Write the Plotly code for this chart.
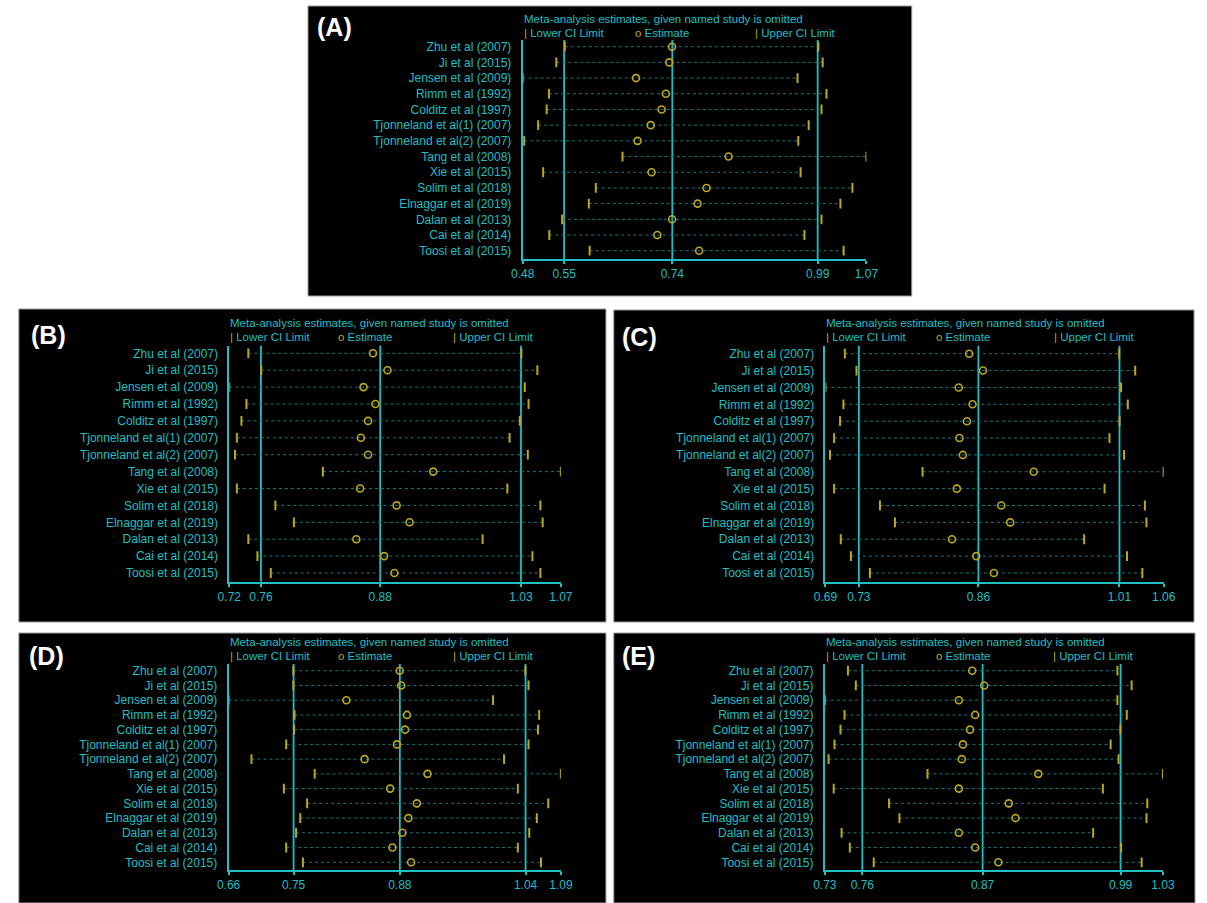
import plotly.graph_objects as go

# ---------------- data ----------------
studies = ["Zhu et al (2007)", "Ji et al (2015)", "Jensen et al (2009)", "Rimm et al (1992)",
           "Colditz et al (1997)", "Tjonneland et al(1) (2007)", "Tjonneland et al(2) (2007)",
           "Tang et al (2008)", "Xie et al (2015)", "Solim et al (2018)", "Elnaggar et al (2019)",
           "Dalan et al (2013)", "Cai et al (2014)", "Toosi et al (2015)"]

A_lower = [0.5524, 0.5378, 0.4800, 0.5252, 0.5212, 0.5066, 0.4827, 0.6514, 0.5152, 0.6056, 0.5936, 0.5478, 0.5258, 0.5950]
A_est   = [0.7365, 0.7318, 0.6747, 0.7258, 0.7185, 0.6999, 0.6773, 0.8335, 0.7013, 0.7956, 0.7803, 0.7365, 0.7112, 0.7830]
A_upper = [0.9876, 0.9950, 0.9518, 1.0016, 0.9930, 0.9710, 0.9531, 1.0700, 0.9571, 1.0461, 1.0255, 0.9930, 0.9637, 1.0310]
A_overall = [0.5512, 0.7369, 0.9864]
A_ticklabels = ["0.48", "0.55", "0.74", "0.99", "1.07"]

B_lower = [0.7401, 0.7537, 0.7200, 0.7381, 0.7328, 0.7280, 0.7260, 0.8188, 0.7280, 0.7686, 0.7882, 0.7401, 0.7497, 0.7638]
B_est   = [0.8717, 0.8870, 0.8617, 0.8742, 0.8665, 0.8589, 0.8665, 0.9352, 0.8581, 0.8966, 0.9103, 0.8541, 0.8834, 0.8942]
B_upper = [1.0283, 1.0452, 1.0319, 1.0359, 1.0267, 1.0159, 1.0351, 1.0700, 1.0135, 1.0484, 1.0508, 0.9874, 1.0400, 1.0484]
B_overall = [0.7534, 0.8793, 1.0279]
B_ticklabels = ["0.72", "0.76", "0.88", "1.03", "1.07"]

C_lower = [0.7112, 0.7239, 0.6900, 0.7096, 0.7059, 0.6994, 0.6949, 0.7962, 0.6994, 0.7496, 0.7660, 0.7067, 0.7178, 0.7386]
C_est   = [0.8472, 0.8623, 0.8358, 0.8509, 0.8448, 0.8366, 0.8403, 0.9178, 0.8337, 0.8823, 0.8921, 0.8284, 0.8550, 0.8742]
C_upper = [1.0114, 1.0289, 1.0134, 1.0208, 1.0118, 1.0007, 1.0167, 1.0600, 0.9954, 1.0395, 1.0412, 0.9730, 1.0199, 1.0367]
C_overall = [0.7265, 0.8573, 1.0117]
C_ticklabels = ["0.69", "0.73", "0.86", "1.01", "1.06"]

D_lower = [0.7438, 0.7438, 0.6600, 0.7453, 0.7448, 0.7345, 0.6896, 0.7714, 0.7315, 0.7616, 0.7527, 0.7473, 0.7345, 0.7562]
D_est   = [0.8814, 0.8834, 0.8124, 0.8908, 0.8883, 0.8779, 0.8360, 0.9174, 0.8691, 0.9036, 0.8927, 0.8849, 0.8720, 0.8962]
D_upper = [1.0441, 1.0481, 1.0022, 1.0619, 1.0604, 1.0481, 1.0165, 1.0900, 1.0343, 1.0737, 1.0589, 1.0491, 1.0343, 1.0643]
D_overall = [0.7441, 0.8816, 1.0443]
D_ticklabels = ["0.66", "0.75", "0.88", "1.04", "1.09"]

E_lower = [0.7505, 0.7575, 0.7300, 0.7475, 0.7439, 0.7386, 0.7333, 0.8211, 0.7379, 0.7870, 0.7962, 0.7449, 0.7522, 0.7734]
E_est   = [0.8608, 0.8714, 0.8489, 0.8634, 0.8588, 0.8525, 0.8515, 0.9194, 0.8489, 0.8932, 0.8992, 0.8489, 0.8634, 0.8840]
E_upper = [0.9896, 1.0022, 0.9896, 0.9979, 0.9923, 0.9836, 0.9906, 1.0300, 0.9767, 1.0161, 1.0154, 0.9681, 0.9929, 1.0111]
E_overall = [0.7633, 0.8700, 0.9924]
E_ticklabels = ["0.73", "0.76", "0.87", "0.99", "1.03"]

panel_labels = ["(A)", "(B)", "(C)", "(D)", "(E)"]
title_text = "Meta-analysis estimates, given named study is omitted"
legend_texts = ["Lower CI Limit", "Estimate", "Upper CI Limit"]

# ---------------- style / layout ----------------
W, H = 1207, 903
CYAN = "#1fbfc4"
YEL = "#bca81c"
DOT = "#1a7878"
FONT = "Liberation Sans, Arial, sans-serif"


def px(x):
    return x / W


def py(y):
    return 1 - y / H


geo = [
    dict(rect=(302, 6, 918, 296), xpx=(521, 871.7), first=46.7, last=250.7, top=40, axis=259,
         title_y=18.8, leg_y=32.8, lab=(329, 26.7)),
    dict(rect=(7, 309, 606, 622), xpx=(221.7, 560), first=353.3, last=573, top=345.7, axis=581.7,
         title_y=322.8, leg_y=336.8, lab=(37, 335)),
    dict(rect=(614, 310, 1206, 622), xpx=(830, 1175), first=353.7, last=573, top=345.7, axis=581.7,
         title_y=322.8, leg_y=336.8, lab=(640, 336.5)),
    dict(rect=(7, 633, 606, 903), xpx=(221, 560), first=670.7, last=862.3, top=664, axis=870,
         title_y=642.3, leg_y=656.2, lab=(35, 656)),
    dict(rect=(614, 633, 1207, 903), xpx=(829.3, 1174.3), first=670.7, last=862.3, top=664, axis=870,
         title_y=642.3, leg_y=656.2, lab=(639, 656)),
]

datasets = [
    (A_lower, A_est, A_upper, A_overall, A_ticklabels),
    (B_lower, B_est, B_upper, B_overall, B_ticklabels),
    (C_lower, C_est, C_upper, C_overall, C_ticklabels),
    (D_lower, D_est, D_upper, D_overall, D_ticklabels),
    (E_lower, E_est, E_upper, E_overall, E_ticklabels),
]

fig = go.Figure()
shapes = []
annotations = []
layout_axes = {}

rows = list(range(len(studies)))

for k, ((lo, es, up, ov, tl), g) in enumerate(zip(datasets, geo)):
    n = k + 1
    xa = "x" if n == 1 else f"x{n}"
    ya = "y" if n == 1 else f"y{n}"
    xkey = "xaxis" if n == 1 else f"xaxis{n}"
    ykey = "yaxis" if n == 1 else f"yaxis{n}"

    # black panel background
    x0, y0, x1, y1 = g["rect"]
    shapes.append(dict(type="rect", xref="paper", yref="paper", x0=px(x0), x1=px(x1), y0=py(y1), y1=py(y0),
                       fillcolor="black", line=dict(color="#9a9a9a", width=1), layer="below"))

    # dotted CI lines
    lx, ly = [], []
    for i in rows:
        lx += [lo[i], up[i], None]
        ly += [i, i, None]
    fig.add_trace(go.Scatter(x=lx, y=ly, mode="lines", line=dict(color=DOT, width=1, dash="dot"),
                             xaxis=xa, yaxis=ya, showlegend=False, hoverinfo="skip"))
    # lower / upper limit ticks
    for arr in (lo, up):
        fig.add_trace(go.Scatter(x=arr, y=rows, mode="markers",
                                 marker=dict(symbol="line-ns", size=7, line=dict(color=YEL, width=2)),
                                 xaxis=xa, yaxis=ya, showlegend=False))
    # estimates
    fig.add_trace(go.Scatter(x=es, y=rows, mode="markers",
                             marker=dict(symbol="circle-open", size=7, color=YEL, line=dict(color=YEL, width=1.6)),
                             xaxis=xa, yaxis=ya, showlegend=False))

    # overall reference lines
    for v in ov:
        shapes.append(dict(type="line", xref=xa, yref=f"{ya} domain", x0=v, x1=v, y0=0, y1=1,
                           line=dict(color=CYAN, width=1.8), layer="below"))

    sp = (g["last"] - g["first"]) / (len(studies) - 1)
    yr = [(g["axis"] - g["first"]) / sp, (g["top"] - g["first"]) / sp]
    xmin, xmax = min(lo), max(up)
    tickvals = [xmin] + list(ov) + [xmax]

    layout_axes[xkey] = dict(domain=[px(g["xpx"][0]), px(g["xpx"][1])], range=[xmin, xmax], anchor=ya,
                             showgrid=False, zeroline=False, showline=True, linecolor=CYAN, linewidth=1.8,
                             ticks="outside", ticklen=3, tickwidth=1.5, tickcolor=CYAN,
                             tickvals=tickvals, ticktext=tl, tickfont=dict(color=CYAN, size=12, family=FONT),
                             fixedrange=True)
    layout_axes[ykey] = dict(domain=[py(g["axis"]), py(g["top"])], range=yr, anchor=xa,
                             showgrid=False, zeroline=False, showline=True, linecolor=CYAN, linewidth=1.8,
                             ticks="", tickvals=rows, ticktext=studies, ticklabelstandoff=7,
                             tickfont=dict(color=CYAN, size=12, family=FONT), fixedrange=True)

    # title and legend
    axl, axr = g["xpx"]
    aw = axr - axl
    annotations.append(dict(text=title_text, xref="paper", yref="paper", x=px(axl), y=py(g["title_y"]),
                            xanchor="left", yanchor="middle", showarrow=False, borderpad=0,
                            font=dict(color=CYAN, size=11.5, family=FONT)))
    glyphs = ["|", "o", "|"]
    for frac, gl, txt in zip([0.0, 0.325, 0.673], glyphs, legend_texts):
        annotations.append(dict(text=f'<span style="color:{YEL}">{gl}</span> {txt}', xref="paper", yref="paper",
                                x=px(axl + frac * aw), y=py(g["leg_y"]), xanchor="left", yanchor="middle",
                                showarrow=False, borderpad=0, font=dict(color=CYAN, size=11.5, family=FONT)))
    annotations.append(dict(text=f"<b>{panel_labels[k]}</b>", xref="paper", yref="paper",
                            x=px(g["lab"][0]), y=py(g["lab"][1]), xanchor="center", yanchor="middle",
                            showarrow=False, font=dict(color="white", size=25, family=FONT)))

fig.update_layout(width=W, height=H, margin=dict(l=0, r=0, t=0, b=0),
                  paper_bgcolor="white", plot_bgcolor="black", showlegend=False,
                  shapes=shapes, annotations=annotations, **layout_axes)

fig.write_html("out.html", config={"displayModeBar": False},
               post_script="document.body.style.margin='0';document.body.style.overflow='hidden';")
